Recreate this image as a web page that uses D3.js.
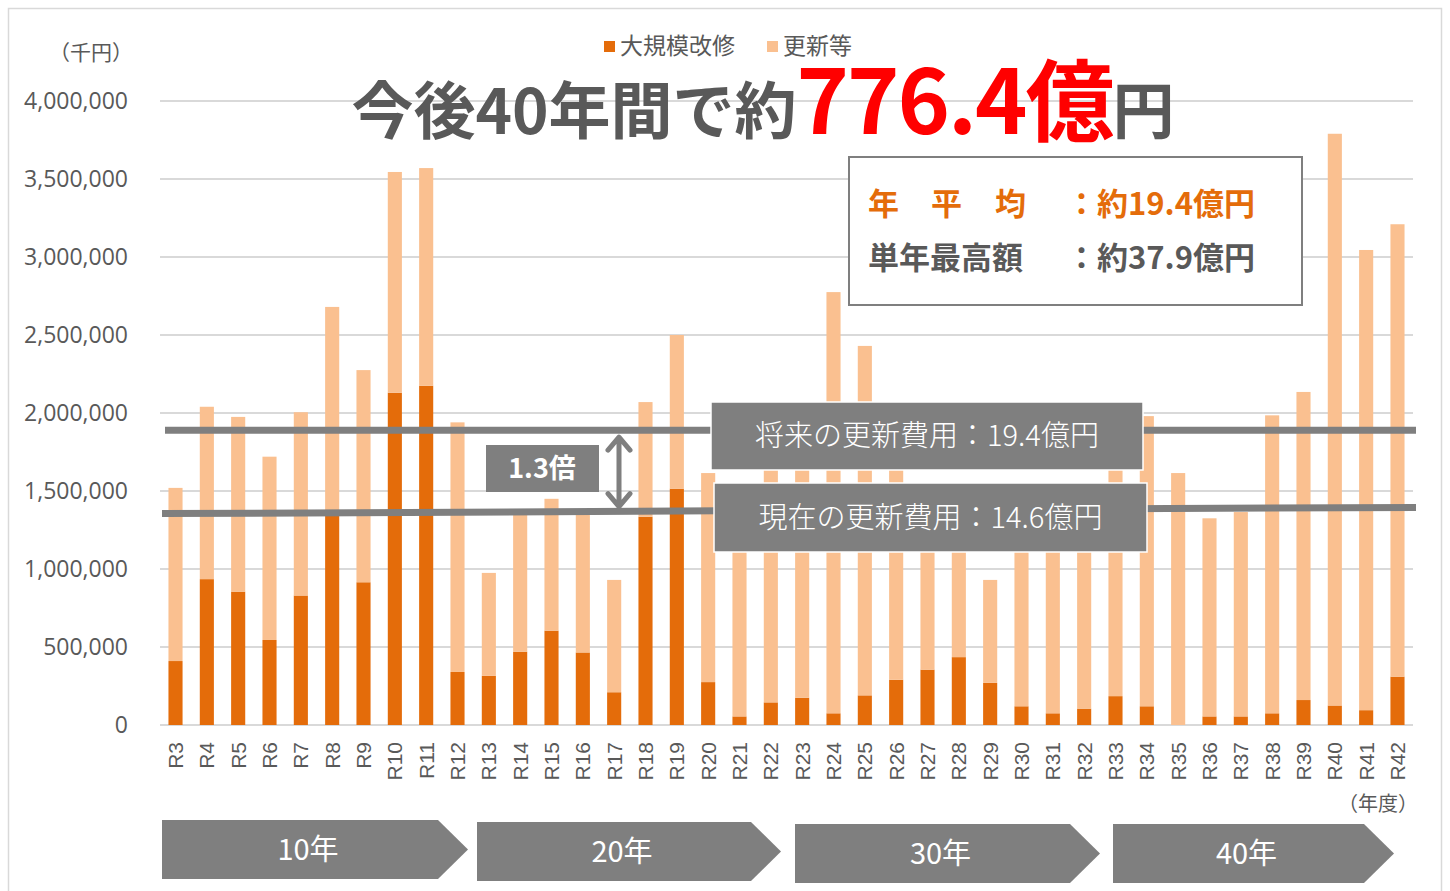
<!DOCTYPE html>
<html>
<head>
<meta charset="utf-8">
<script src="https://cdn.jsdelivr.net/npm/d3@7"></script>
<style>
  body { margin: 0; background: #fff; }
  svg text { font-family: "Noto Sans CJK JP", "Noto Sans", sans-serif; }
</style>
</head>
<body>
<svg id="chart" width="1450" height="891"></svg>
<script>
// fiscal years
var years = ["R3","R4","R5","R6","R7","R8","R9","R10","R11","R12",
  "R13","R14","R15","R16","R17","R18","R19","R20","R21","R22",
  "R23","R24","R25","R26","R27","R28","R29","R30","R31","R32",
  "R33","R34","R35","R36","R37","R38","R39","R40","R41","R42"];

// 大規模改修 (千円)
var majorRepair = [410000,935000,855000,545000,830000,1340000,915000,2130000,2175000,340000,
  315000,470000,605000,465000,210000,1335000,1515000,275000,55000,145000,
  175000,75000,190000,290000,355000,435000,270000,120000,75000,105000,
  185000,120000,0,55000,55000,75000,160000,125000,95000,310000];

// 更新等 (千円)
var renewal = [1110000,1105000,1120000,1175000,1175000,1340000,1360000,1415000,1395000,1600000,
  660000,890000,845000,895000,720000,735000,985000,1340000,1245000,1655000,
  1725000,2700000,2240000,1460000,1045000,1015000,660000,1230000,1175000,1275000,
  1765000,1860000,1615000,1270000,1310000,1910000,1975000,3665000,2950000,2900000];

var yTicks = [0,500000,1000000,1500000,2000000,2500000,3000000,3500000,4000000];

// annotation levels (drawn lines, left/right end)
var futureLine = [1890000, 1890000];
var currentLine = [1355000, 1395000];

var periods = ["10年","20年","30年","40年"];

var svg = d3.select("#chart");
var grey = "#595959";

// outer frame
svg.append("rect").attr("x", 8.5).attr("y", 8.5).attr("width", 1433).attr("height", 900)
  .attr("fill", "none").attr("stroke", "#d9d9d9").attr("stroke-width", 1.5);

var x = d3.scaleBand().domain(years).range([160, 1413]).paddingInner(0.55).paddingOuter(0.27);
var y = d3.scaleLinear().domain([0, 4000000]).range([725, 101]);

// gridlines
svg.append("g").selectAll("line").data(yTicks).join("line")
  .attr("x1", 160).attr("x2", 1413)
  .attr("y1", function (d) { return y(d); }).attr("y2", function (d) { return y(d); })
  .attr("stroke", "#d9d9d9").attr("stroke-width", 2);

// y axis labels
var yAxis = svg.append("g").attr("transform", "translate(128,0)")
  .call(d3.axisLeft(y).tickValues(yTicks).tickSize(0).tickPadding(0).tickFormat(d3.format(",")));
yAxis.select(".domain").remove();
yAxis.selectAll("text").attr("font-size", 23).attr("fill", grey)
  .style("font-family", "'Open Sans', 'Noto Sans', sans-serif");

svg.append("text").attr("x", 91).attr("y", 60).attr("text-anchor", "middle")
  .attr("font-size", 21).attr("fill", grey).text("（千円）");

// stacked bars
var rows = years.map(function (yr, i) { return { year: yr, major: majorRepair[i], renewal: renewal[i] }; });
var stack = d3.stack().keys(["major", "renewal"])(rows);
var colors = { major: "#E46C0A", renewal: "#FAC090" };

svg.append("g").selectAll("g").data(stack).join("g")
  .attr("fill", function (s) { return colors[s.key]; })
  .selectAll("rect").data(function (s) { return s; }).join("rect")
  .attr("x", function (d) { return x(d.data.year); })
  .attr("width", x.bandwidth())
  .attr("y", function (d) { return y(d[1]); })
  .attr("height", function (d) { return y(d[0]) - y(d[1]); });

// x axis labels
var xAxis = svg.append("g").attr("transform", "translate(0,742)")
  .call(d3.axisBottom(x).tickSize(0).tickPadding(0));
xAxis.select(".domain").remove();
xAxis.selectAll("text")
  .attr("font-size", 21).attr("fill", grey)
  .attr("transform", "rotate(-90)")
  .attr("text-anchor", "end").attr("dy", "0.35em").attr("x", 0).attr("y", 0)
  .style("font-family", "'Liberation Sans', Arial, sans-serif");

svg.append("text").attr("x", 1378).attr("y", 811).attr("text-anchor", "middle")
  .attr("font-size", 20).attr("fill", grey).text("（年度）");

// legend
var legend = svg.append("g");
[["大規模改修", colors.major, 604], ["更新等", colors.renewal, 767]].forEach(function (l) {
  legend.append("rect").attr("x", l[2]).attr("y", 41).attr("width", 11).attr("height", 11).attr("fill", l[1]);
  legend.append("text").attr("x", l[2] + 16).attr("y", 54).attr("font-size", 23).attr("fill", grey).text(l[0]);
});

// title
var title = svg.append("text").attr("x", 763).attr("y", 134).attr("text-anchor", "middle")
  .attr("font-weight", "bold").attr("fill", grey);
title.append("tspan").attr("font-size", 62).text("今後40年間で約");
title.append("tspan").attr("font-size", 89).attr("fill", "#FF0000").attr("letter-spacing", -2).text("776.4億");
title.append("tspan").attr("font-size", 62).text("円");

// info box
svg.append("rect").attr("x", 849).attr("y", 157).attr("width", 453).attr("height", 148)
  .attr("fill", "#fff").attr("stroke", "#7f7f7f").attr("stroke-width", 2);
svg.append("text").attr("x", 868).attr("y", 215).attr("font-size", 31).attr("font-weight", "bold")
  .attr("fill", "#E46C0A").text("年");
svg.append("text").attr("x", 931).attr("y", 215).attr("font-size", 31).attr("font-weight", "bold")
  .attr("fill", "#E46C0A").text("平");
svg.append("text").attr("x", 995).attr("y", 215).attr("font-size", 31).attr("font-weight", "bold")
  .attr("fill", "#E46C0A").text("均");
svg.append("text").attr("x", 1066).attr("y", 215).attr("font-size", 31).attr("font-weight", "bold")
  .attr("fill", "#E46C0A").text("：約19.4億円");
svg.append("text").attr("x", 868).attr("y", 269).attr("font-size", 31).attr("font-weight", "bold")
  .attr("fill", grey).text("単年最高額");
svg.append("text").attr("x", 1066).attr("y", 269).attr("font-size", 31).attr("font-weight", "bold")
  .attr("fill", grey).text("：約37.9億円");

// cost lines
svg.append("line").attr("x1", 165).attr("x2", 1416)
  .attr("y1", y(futureLine[0])).attr("y2", y(futureLine[1]))
  .attr("stroke", "#7f7f7f").attr("stroke-width", 7);
svg.append("line").attr("x1", 162).attr("x2", 1416)
  .attr("y1", y(currentLine[0])).attr("y2", y(currentLine[1]))
  .attr("stroke", "#7f7f7f").attr("stroke-width", 7);

// labels on lines
function labelBox(bx, by, w, h, txt) {
  svg.append("rect").attr("x", bx).attr("y", by).attr("width", w).attr("height", h)
    .attr("fill", "#7f7f7f").attr("stroke", "#fff").attr("stroke-width", 1.5);
  svg.append("text").attr("x", bx + w / 2).attr("y", by + h / 2 + 10).attr("text-anchor", "middle")
    .attr("font-size", 29).attr("font-weight", 300).attr("fill", "#fff").text(txt);
}
labelBox(711, 402, 432, 68, "将来の更新費用：19.4億円");
labelBox(714, 483, 433, 69, "現在の更新費用：14.6億円");

// 1.3倍
svg.append("rect").attr("x", 486).attr("y", 445).attr("width", 113).attr("height", 47).attr("fill", "#7f7f7f");
svg.append("text").attr("x", 542).attr("y", 478).attr("text-anchor", "middle")
  .attr("font-size", 27).attr("font-weight", "bold").attr("fill", "#fff").text("1.3倍");
var ay1 = y(futureLine[0]) + 7, ay2 = y(currentLine[0]) - 7;
svg.append("path")
  .attr("d", "M619," + ay1 + "V" + ay2 + "M608," + (ay1 + 13) + "L619," + ay1 + "L630," + (ay1 + 13) +
    "M608," + (ay2 - 13) + "L619," + ay2 + "L630," + (ay2 - 13))
  .attr("fill", "none").attr("stroke", "#7f7f7f").attr("stroke-width", 5)
  .attr("stroke-linecap", "round").attr("stroke-linejoin", "round");

// period arrows
var arrowPos = [[162, 820, 306], [477, 822, 304], [795, 824, 305], [1113, 824, 281]];
periods.forEach(function (p, i) {
  var a = arrowPos[i], x0 = a[0], y0 = a[1], w = a[2], h = 59, tip = 30;
  svg.append("path")
    .attr("d", "M" + x0 + "," + y0 + "H" + (x0 + w - tip) + "L" + (x0 + w) + "," + (y0 + h / 2) +
      "L" + (x0 + w - tip) + "," + (y0 + h) + "H" + x0 + "Z")
    .attr("fill", "#7f7f7f");
  svg.append("text").attr("x", x0 + (w - tip) / 2 + 8).attr("y", y0 + h / 2 + 10).attr("text-anchor", "middle")
    .attr("font-size", 29).attr("fill", "#fff").text(p);
});
</script>
</body>
</html>
